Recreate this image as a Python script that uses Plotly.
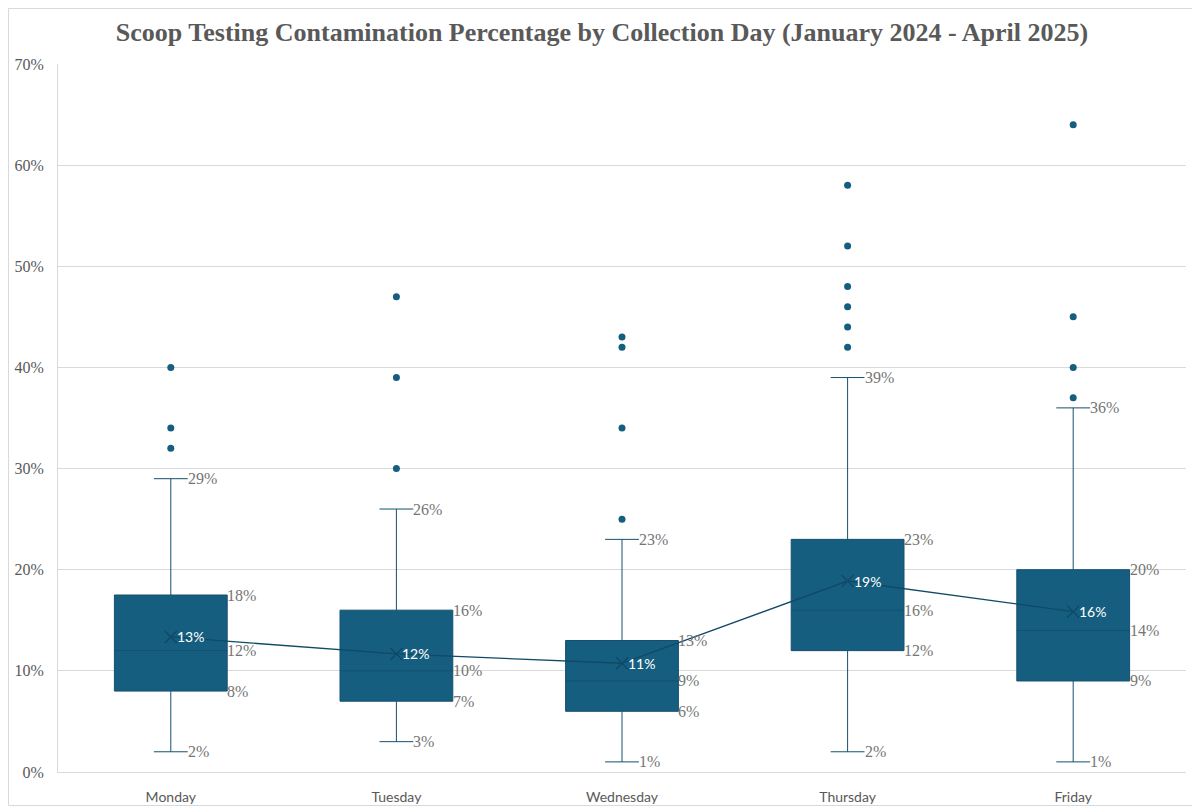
import plotly.graph_objects as go
import numpy as np

days = ["Monday", "Tuesday", "Wednesday", "Thursday", "Friday"]
q1 = [0.08, 0.07, 0.06, 0.12, 0.09]
median = [0.12, 0.10, 0.09, 0.16, 0.14]
q3 = [0.175, 0.16, 0.13, 0.23, 0.20]
lower = [0.02, 0.03, 0.01, 0.02, 0.01]
upper = [0.29, 0.26, 0.23, 0.39, 0.36]
means = [0.1335, 0.1167, 0.1075, 0.1888, 0.1585]
outliers = {
    "Monday": [0.32, 0.34, 0.40],
    "Tuesday": [0.30, 0.39, 0.47],
    "Wednesday": [0.25, 0.34, 0.42, 0.43],
    "Thursday": [0.42, 0.44, 0.46, 0.48, 0.52, 0.58],
    "Friday": [0.37, 0.40, 0.45, 0.64],
}
y_ticks = [0, 0.1, 0.2, 0.3, 0.4, 0.5, 0.6, 0.7]

BOX = "#165e80"
DARK = "#0f4a66"
GRAY = "#595959"
LABEL_GRAY = "#757575"
GRID = "#d9d9d9"

W, H = 1192, 799
ML, MR, MT, MB = 50, 14, 56, 35
PW, PH = W - ML - MR, H - MT - MB


def pct(v):
    return f"{int(np.floor(v * 100 + 0.5 + 1e-9))}%"


fig = go.Figure()
fig.add_trace(go.Box(
    x=days, q1=q1, median=median, q3=q3,
    lowerfence=lower, upperfence=upper,
    boxpoints=False, fillcolor=BOX, width=0.5,
    line=dict(color="#14506e", width=1),
    whiskerwidth=0.3, showlegend=False, hoverinfo="skip",
))

fig.add_trace(go.Scatter(
    x=days, y=means, mode="lines+markers",
    line=dict(color=DARK, width=1.3),
    marker=dict(symbol="x-thin", size=12, line=dict(width=1.5, color=DARK)),
    showlegend=False, hoverinfo="skip",
))

ox, oy = [], []
for d in days:
    for v in outliers[d]:
        ox.append(d)
        oy.append(v)
fig.add_trace(go.Scatter(
    x=ox, y=oy, mode="markers",
    marker=dict(color=BOX, size=7),
    showlegend=False, hoverinfo="skip",
))

serif = dict(family="Liberation Serif", size=16, color=LABEL_GRAY)
for i, d in enumerate(days):
    for v in (q1[i], median[i], q3[i]):
        fig.add_annotation(x=i + 0.25, y=v, xref="x", yref="y", text=pct(v),
                           showarrow=False, xanchor="left", yanchor="middle",
                           font=serif, xshift=-2)
    for v in (lower[i], upper[i]):
        fig.add_annotation(x=i + 0.075, y=v, xref="x", yref="y", text=pct(v),
                           showarrow=False, xanchor="left", yanchor="middle",
                           font=serif, xshift=-2)
    fig.add_annotation(x=i, y=means[i], xref="x", yref="y", text=pct(means[i]),
                       showarrow=False, xanchor="left", yanchor="middle",
                       font=dict(family="Lato", size=14, color="white"), xshift=4)

fig.add_shape(type="rect", xref="paper", yref="paper",
              x0=(0.5 - ML) / PW, x1=(W - 2.5 - ML) / PW,
              y0=(H - MB - (H - 1.5)) / PH, y1=(H - MB - 0.5) / PH,
              line=dict(color=GRID, width=1), layer="below")

fig.update_layout(
    width=W, height=H,
    margin=dict(l=ML, r=MR, t=MT, b=MB, autoexpand=False),
    paper_bgcolor="white", plot_bgcolor="white",
    title=dict(
        text="<b>Scoop Testing Contamination Percentage by Collection Day (January 2024 - April 2025)</b>",
        font=dict(family="Liberation Serif", size=26, color=GRAY),
        x=(602 - 8) / W, xanchor="center", xref="container",
        y=1 - 24 / H, yanchor="middle", yref="container",
    ),
    xaxis=dict(
        type="category", categoryorder="array", categoryarray=days,
        showgrid=False, showline=True, linecolor=GRID, linewidth=1,
        ticks="", tickfont=dict(family="Lato", size=14, color=GRAY),
        ticklabelstandoff=12, range=[-0.5, 4.5], automargin=False,
    ),
    yaxis=dict(
        range=[0, 0.7], tickvals=y_ticks, tickformat=".0%",
        showgrid=True, gridcolor=GRID, gridwidth=1,
        showline=True, linecolor=GRID, linewidth=1, zeroline=False,
        ticks="", tickfont=dict(family="Liberation Serif", size=16, color=GRAY),
        ticklabelstandoff=10, automargin=False,
    ),
)

fig.write_html("out.html")
